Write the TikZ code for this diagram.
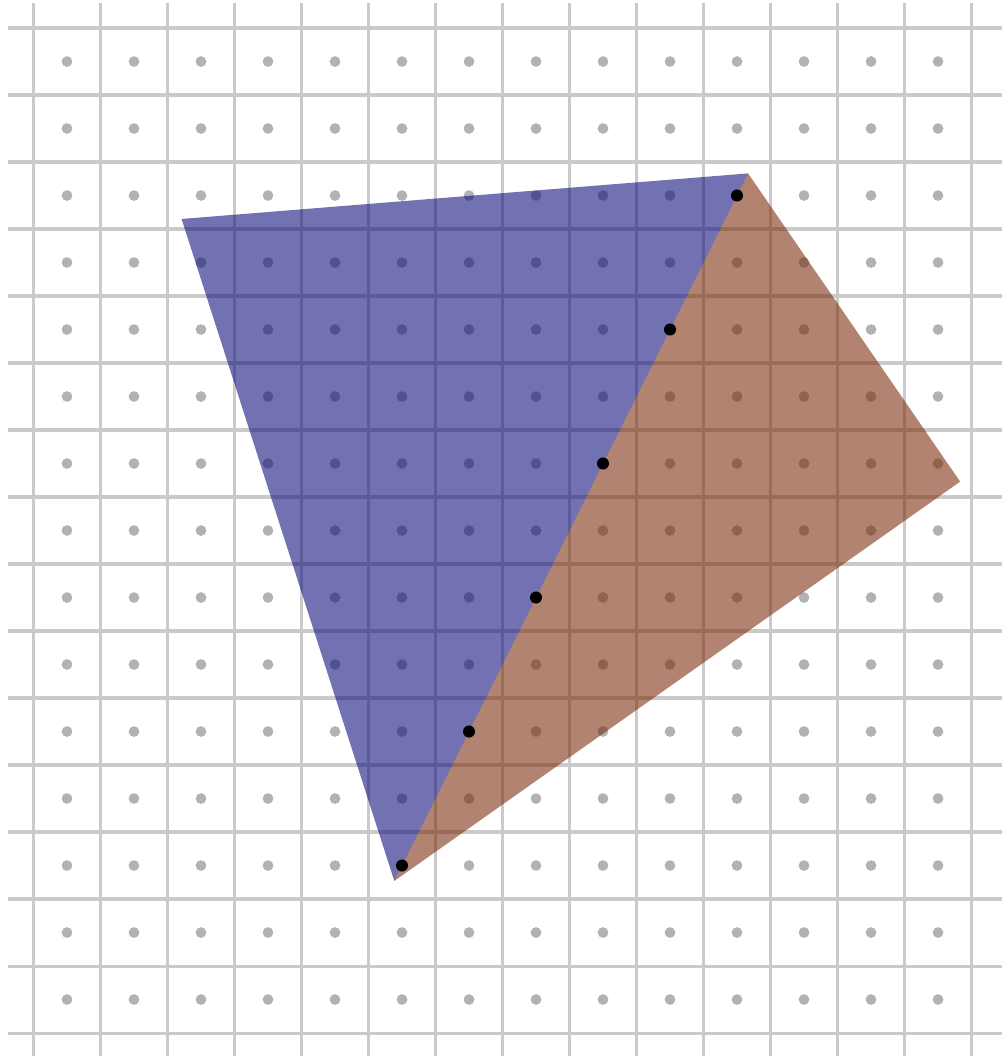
\documentclass[tikz,border=0pt]{standalone}
\usepackage{tikz}

\definecolor{gridgray}{RGB}{202,202,202}
\definecolor{dotgray}{RGB}{178,178,178}
\definecolor{triblue}{RGB}{12,12,122}
\definecolor{tribrown}{RGB}{120,42,8}

\begin{document}
\begin{tikzpicture}[
    x=1cm, y=-1cm,
    gridline/.style={draw=gridgray, line width=1.3pt},
    sample/.style={fill=dotgray},
    hit/.style={fill=black},
    leftTri/.style={fill=triblue, fill opacity=0.58},
    rightTri/.style={fill=tribrown, fill opacity=0.58},
]
\useasboundingbox (-0.5,-0.418) rectangle (14.47,15.343);

% --- Grid lines ---
\foreach \i in {0,...,14}
  \draw[gridline] (\i,-0.37) -- (\i,15.4);
\foreach \j in {0,...,15}
  \draw[gridline] (-0.38,\j) -- (14.45,\j);

% --- Sample points at pixel centres ---
\foreach \i in {0,...,13}
  \foreach \j in {0,...,14}
    \fill[sample] (\i+0.5,\j+0.5) circle (0.08);

% --- Vertices ---
\coordinate (vA) at (2.21,2.85);
\coordinate (vB) at (10.665,2.17);
\coordinate (vC) at (5.385,12.73);
\coordinate (vD) at (13.83,6.77);

% --- Triangles sharing the edge B--C ---
\fill[leftTri]  (vA) -- (vB) -- (vC) -- cycle;
\fill[rightTri] (vB) -- (vD) -- (vC) -- cycle;

% --- Samples lying exactly on the shared edge ---
\foreach \k in {0,...,5}
  \fill[hit] (10.5-\k,2.5+2*\k) circle (0.09);

\end{tikzpicture}
\end{document}
